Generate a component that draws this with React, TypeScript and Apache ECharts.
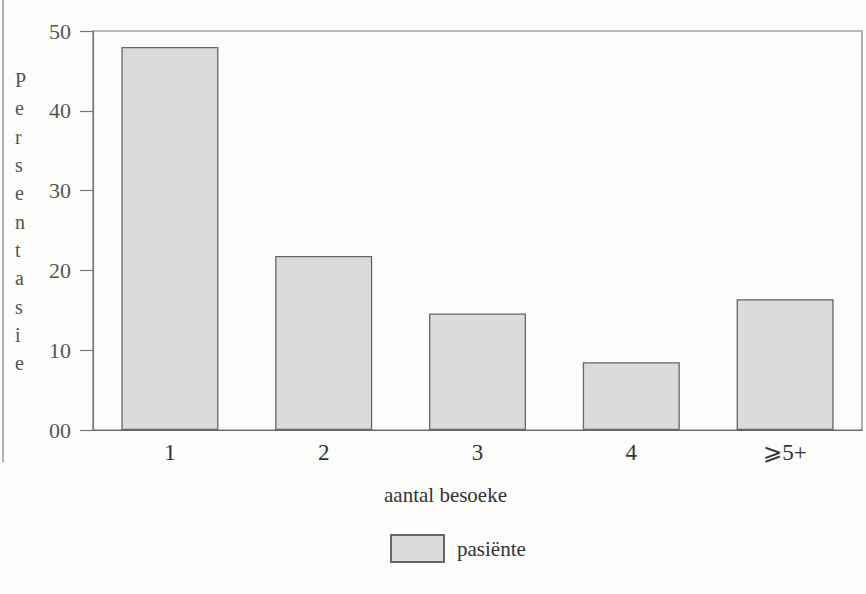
import React, { useEffect, useRef } from "react";
import * as echarts from "echarts";

const categories = ["1", "2", "3", "4", "⩾5+"];
const values = [48, 21.8, 14.6, 8.5, 16.4];
const yTickLabels: Record<number, string> = { 0: "00", 10: "10", 20: "20", 30: "30", 40: "40", 50: "50" };
const yTitleLetters = ["P", "e", "r", "s", "e", "n", "t", "a", "s", "i", "e"];
const xTitle = "aantal besoeke";
const seriesName = "pasiënte";

const FONT = "Liberation Serif";

export default function App() {
  const ref = useRef<HTMLDivElement>(null);
  useEffect(() => {
    if (!ref.current) return;
    const chart = echarts.init(ref.current, undefined, { renderer: "svg" });
    chart.setOption({
      animation: false,
      backgroundColor: "#fcfcfb",
      textStyle: { fontFamily: FONT },
      grid: {
        left: 93,
        right: 4,
        top: 31,
        bottom: 164,
        show: true,
        borderColor: "#777",
        borderWidth: 1.2,
        backgroundColor: "transparent",
      },
      legend: {
        left: 385,
        top: 529,
        itemWidth: 53,
        itemHeight: 27,
        itemGap: 10,
        icon: "rect",
        textStyle: { fontFamily: FONT, fontSize: 21, color: "#333", padding: [6, 0, 0, 8] },
        data: [seriesName],
      },
      xAxis: {
        type: "category",
        data: categories,
        axisLine: { show: true, lineStyle: { color: "#666", width: 1.2 } },
        axisTick: { show: false },
        axisLabel: { fontFamily: FONT, fontSize: 23, color: "#333", margin: 11 },
      },
      yAxis: {
        type: "value",
        min: 0,
        max: 50,
        interval: 10,
        splitLine: { show: false },
        axisLine: { show: true, lineStyle: { color: "#777", width: 1.2 } },
        axisTick: { show: true, inside: false, length: 13, lineStyle: { color: "#777", width: 1.2 } },
        axisLabel: {
          fontFamily: FONT,
          fontSize: 22,
          color: "#555",
          margin: 22,
          formatter: (v: number) => yTickLabels[v] ?? String(v),
        },
      },
      graphic: [
        {
          type: "text",
          left: 15,
          top: 66,
          style: {
            text: yTitleLetters.join("\n"),
            fontFamily: FONT,
            fontSize: 20,
            lineHeight: 28.3,
            fill: "#555",
            align: "center",
          },
        },
        {
          type: "text",
          left: 384,
          top: 484,
          style: { text: xTitle, fontFamily: FONT, fontSize: 21, fill: "#333" },
        },
        {
          type: "line",
          shape: { x1: 3, y1: 0, x2: 3, y2: 462 },
          style: { stroke: "#999", lineWidth: 1.5 },
        },
      ],
      series: [
        {
          name: seriesName,
          type: "bar",
          data: values,
          barWidth: 97,
          itemStyle: { color: "#dcdbd9", borderColor: "#666", borderWidth: 1.3 },
        },
      ],
    });
    return () => chart.dispose();
  }, []);
  return <div ref={ref} style={{ position: "absolute", left: 0, top: 0, width: 866, height: 594 }} />;
}
